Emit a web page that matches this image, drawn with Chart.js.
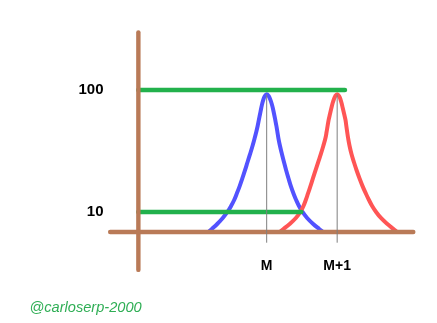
<!DOCTYPE html>
<html>
<head>
<meta charset="utf-8">
<title>M / M+1</title>
<script src="https://cdn.jsdelivr.net/npm/chart.js@4/dist/chart.umd.min.js"></script>
<style>
  html, body { margin: 0; padding: 0; background: #ffffff; }
  canvas { display: block; }
</style>
</head>
<body>
<canvas id="chart" width="437" height="323"></canvas>
<script>
// Mass positions and their labels on the horizontal axis
const massLabels = ['M', 'M+1'];
const massPositions = [0, 1];

// Abundance levels marked on the vertical axis
const abundanceTicks = [10, 100];

// Abundance profile shared by both peaks, from the left foot over the apex to the right foot
const peakY = [6.92, 7.26, 7.97, 8.93, 10.0, 11.2, 12.54, 14.05, 16.3, 19.0, 22.1, 25.7, 29.9, 34.75, 40.4, 45.3,
               50.7, 56.8, 63.6, 71.2, 78.2, 84.4, 89.3, 92.2,
               89.3, 84.4, 78.2, 71.2, 63.6, 56.8, 50.7,
               45.3, 40.4, 34.75, 29.9, 25.7, 22.1, 19.0, 16.3, 14.05, 12.54, 11.2, 10.0, 8.93, 7.97, 7.26, 6.92];

// Peak of the M ion: mass offset of each profile point
const peakMX = [-0.818, -0.777, -0.702, -0.623, -0.557, -0.505, -0.461, -0.426, -0.383, -0.343, -0.306, -0.271,
                -0.235, -0.201, -0.170, -0.148, -0.128, -0.111, -0.094, -0.077, -0.061, -0.044, -0.027, 0,
                0.028, 0.048, 0.068, 0.087, 0.105, 0.122, 0.138, 0.152, 0.166, 0.189, 0.216, 0.245,
                0.275, 0.308, 0.343, 0.383, 0.418, 0.458, 0.508, 0.574, 0.660, 0.745, 0.791];

// Peak of the M+1 ion
const peakM1X = [0.193, 0.238, 0.326, 0.414, 0.478, 0.522, 0.555, 0.584, 0.621, 0.658, 0.695, 0.732,
                 0.769, 0.803, 0.834, 0.850, 0.864, 0.879, 0.898, 0.918, 0.936, 0.955, 0.973, 1,
                 1.028, 1.045, 1.062, 1.079, 1.099, 1.118, 1.130, 1.142, 1.155, 1.176, 1.203, 1.237,
                 1.274, 1.315, 1.360, 1.410, 1.451, 1.496, 1.552, 1.621, 1.712, 1.799, 1.840];

// Reference levels: 100 reaches the M+1 apex, 10 reaches the crossing of the peaks
const levelValues = [100, 10];
const levelEnds = [1.11, 0.49];

// Hand-drawn axis frame, in data units
const frameX = [-2.22, 2.08];       // horizontal bar extent
const frameBase = 6.86;             // abundance where the horizontal bar sits
const frameOrigin = -1.82;          // mass offset of the vertical bar
const frameY = [3.35, 296];         // vertical bar extent
const markerBottom = 5.6;           // lower end of the thin apex markers

const FONT = '"Liberation Sans", Arial, Helvetica, sans-serif';

const pts = (xs, ys) => xs.map((x, i) => ({ x, y: ys[i] }));
const seg = (x0, y0, x1, y1) => [{ x: x0, y: y0 }, { x: x1, y: y1 }];
const apex = Math.max(...peakY);

const base = {
  pointRadius: 0,
  pointHoverRadius: 0,
  fill: false,
  clip: false,
  borderCapStyle: 'round',
  borderJoinStyle: 'round',
  tension: 0
};

const datasets = [
  { ...base, label: 'M', data: pts(peakMX, peakY), borderColor: '#5252ff', borderWidth: 4,
    tension: 0.4, order: 6 },
  { ...base, label: 'M+1', data: pts(peakM1X, peakY), borderColor: '#ff5555', borderWidth: 4,
    tension: 0.4, order: 5 },
  ...levelValues.map((v, i) => ({
    ...base, label: 'level ' + v, data: seg(frameOrigin, v, levelEnds[i], v),
    borderColor: '#22b14c', borderWidth: 4.6, order: 4
  })),
  { ...base, label: 'x frame', data: seg(frameX[0], frameBase, frameX[1], frameBase),
    borderColor: '#b97a57', borderWidth: 4.4, order: 3 },
  { ...base, label: 'y frame', data: seg(frameOrigin, frameY[0], frameOrigin, frameY[1]),
    borderColor: '#b97a57', borderWidth: 4.4, order: 3 },
  ...massPositions.map((m, i) => ({
    ...base, label: 'marker ' + massLabels[i], data: seg(m, markerBottom, m, apex),
    borderColor: '#7f7f7f', borderWidth: 1, borderCapStyle: 'butt', order: 1
  }))
];

const signature = {
  id: 'signature',
  afterDraw(chart) {
    const ctx = chart.ctx;
    ctx.save();
    ctx.font = 'italic 14.6px ' + FONT;
    ctx.fillStyle = '#2fae55';
    ctx.textBaseline = 'alphabetic';
    ctx.fillText('@carloserp-2000', 29.5, 311.5);
    ctx.restore();
  }
};

new Chart(document.getElementById('chart'), {
  type: 'line',
  data: { datasets },
  plugins: [signature],
  options: {
    responsive: false,
    animation: false,
    events: [],
    layout: { padding: { top: 28.4, right: 17.7, bottom: 0, left: 0 } },
    plugins: { legend: { display: false }, tooltip: { enabled: false } },
    scales: {
      x: {
        type: 'linear',
        min: -2.265,
        max: 2.165,
        bounds: 'data',
        grid: { display: false, drawTicks: false },
        border: { display: false },
        afterBuildTicks: s => { s.ticks = massPositions.map(v => ({ value: v })); },
        afterFit: s => { s.height = 74.3; },
        ticks: {
          autoSkip: false,
          maxRotation: 0,
          padding: 9,
          color: '#000000',
          font: { family: FONT, size: 14, weight: 'bold' },
          callback: v => massLabels[massPositions.indexOf(v)]
        }
      },
      y: {
        type: 'logarithmic',
        position: 'left',
        min: 5,
        max: 320,
        bounds: 'data',
        grid: { display: false, drawTicks: false },
        border: { display: false },
        afterBuildTicks: s => { s.ticks = abundanceTicks.map(v => ({ value: v })); },
        afterFit: s => { s.width = 107; },
        ticks: {
          padding: 3.5,
          color: '#000000',
          font: { family: FONT, size: 15, weight: 'bold' },
          callback: v => String(v)
        }
      }
    }
  }
});
</script>
</body>
</html>
